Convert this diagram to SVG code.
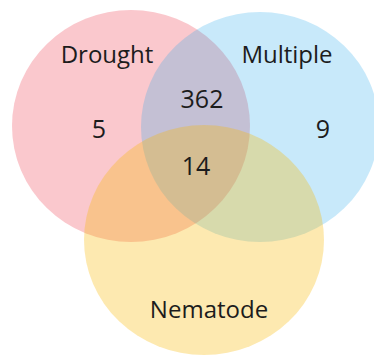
<svg xmlns="http://www.w3.org/2000/svg" width="374" height="356" viewBox="0 0 374 356">
<style>
.lbl{font-family:"Open Sans","Liberation Sans",sans-serif;font-size:24px;fill:#1c1c1c;text-anchor:middle}
.num{font-family:"Open Sans","Liberation Sans",sans-serif;font-size:25px;fill:#1c1c1c;text-anchor:middle}
</style>
<rect width="374" height="356" fill="#ffffff"/>
<g id="drought"><ellipse cx="131" cy="126" rx="119" ry="116" fill="#ee4858" fill-opacity="0.3"/></g>
<g id="multiple"><ellipse cx="260" cy="127" rx="119" ry="115" fill="#24a8ec" fill-opacity="0.25"/></g>
<g id="nematode"><ellipse cx="204" cy="240" rx="120" ry="115" fill="#f8b800" fill-opacity="0.31"/></g>
<g id="labels">
<text class="lbl" x="107" y="63">Drought</text>
<text class="lbl" x="287" y="63">Multiple</text>
<text class="lbl" x="209" y="318">Nematode</text>
<text class="num" x="202" y="108">362</text>
<text class="num" x="99" y="138">5</text>
<text class="num" x="323" y="138">9</text>
<text class="num" x="196" y="175">14</text>
</g>
</svg>
